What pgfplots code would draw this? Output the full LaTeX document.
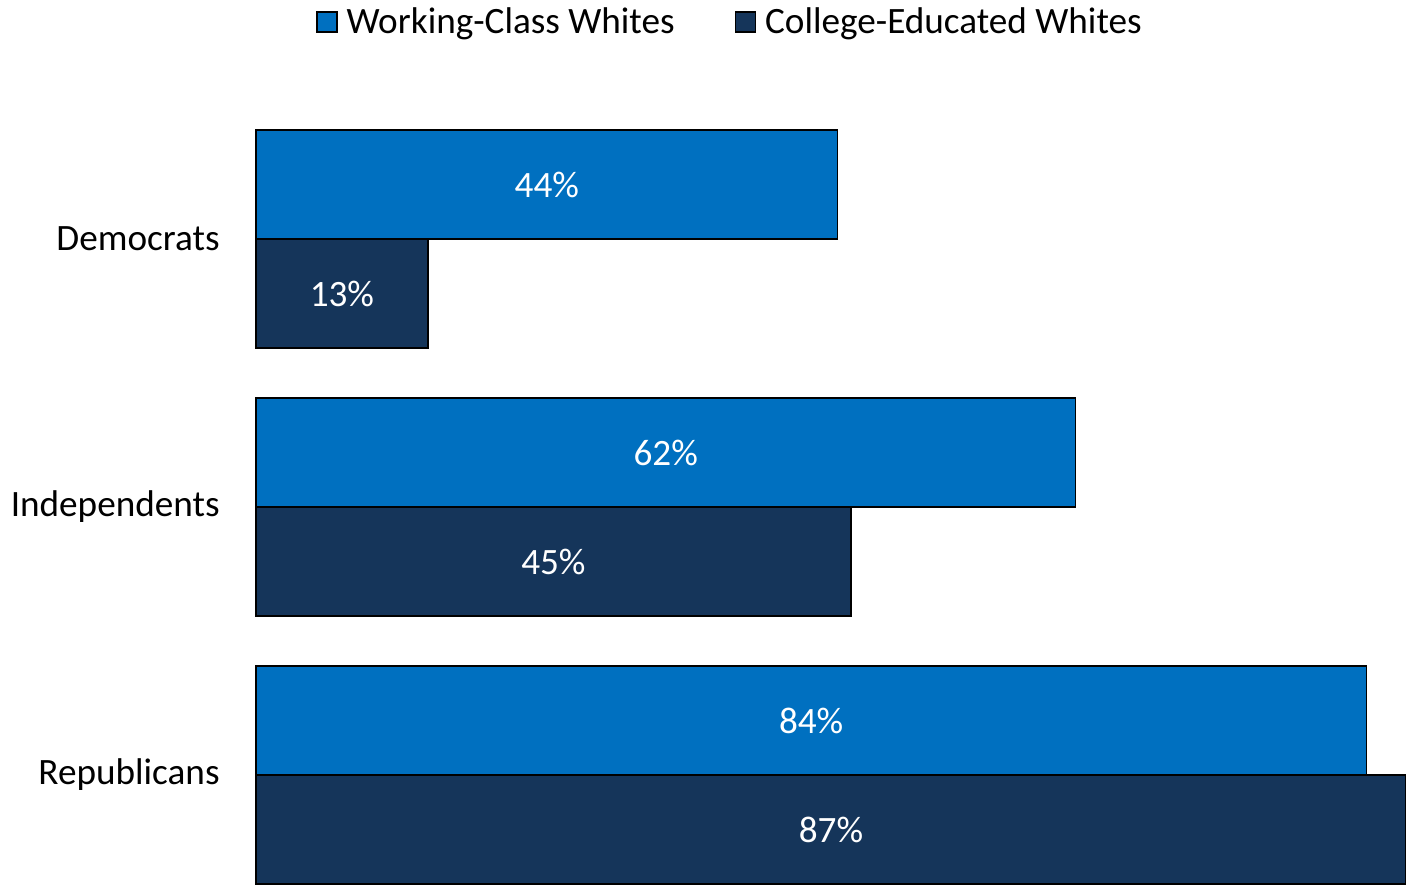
\documentclass[border=0pt]{standalone}
\usepackage{fontspec}
\setmainfont{Carlito}
\usepackage{pgfplots}
\pgfplotsset{compat=1.18}
\definecolor{wcblue}{HTML}{0070C0}
\definecolor{cenavy}{HTML}{15355A}
\begin{document}
\begin{tikzpicture}
\path[use as bounding box] (-128pt,0pt) rectangle (575pt,442pt);
\begin{axis}[
  at={(0,0)}, anchor=south west,
  scale only axis, width=575pt, height=377pt,
  xbar, bar width=54.5pt,
  xmin=0, xmax=87, ymin=-0.4067, ymax=2.4067,
  axis x line=none,
  y axis line style={draw=none},
  major tick length=0pt,
  ytick={0,1,2},
  yticklabels={Republicans,Independents,Democrats},
  yticklabel style={font=\fontsize{18.6}{21}\selectfont, anchor=east, inner sep=0pt, xshift=-18pt},
  point meta=x,
  visualization depends on={x \as \rawx},
  nodes near coords={\pgfmathprintnumber[assume math mode=true]{\pgfplotspointmeta}\%},
  every node near coord/.append style={anchor=center, text=white, font=\fontsize{18.6}{21}\selectfont, xshift={-3.3046*\rawx}},
  legend columns=2,
  legend style={draw=none, at={(axis description cs:0.413,1.1432)}, anchor=center, font=\fontsize{18.6}{21}\selectfont, inner sep=0pt,
    /tikz/every odd column/.append style={column sep=2.5pt},
    /tikz/every even column/.append style={column sep=28pt}},
  legend image code/.code={\draw[#1, draw=black, line width=0.75pt] (0pt,-5pt) rectangle (10pt,5pt);},
  clip=false,
]
\addplot[fill=wcblue, draw=black, line width=0.75pt, bar shift=27.25pt] coordinates {(84,0) (62,1) (44,2)};
\addplot[fill=cenavy, draw=black, line width=0.75pt, bar shift=-27.25pt] coordinates {(87,0) (45,1) (13,2)};
\legend{Working-Class Whites, College-Educated Whites}
\end{axis}
\end{tikzpicture}
\end{document}
